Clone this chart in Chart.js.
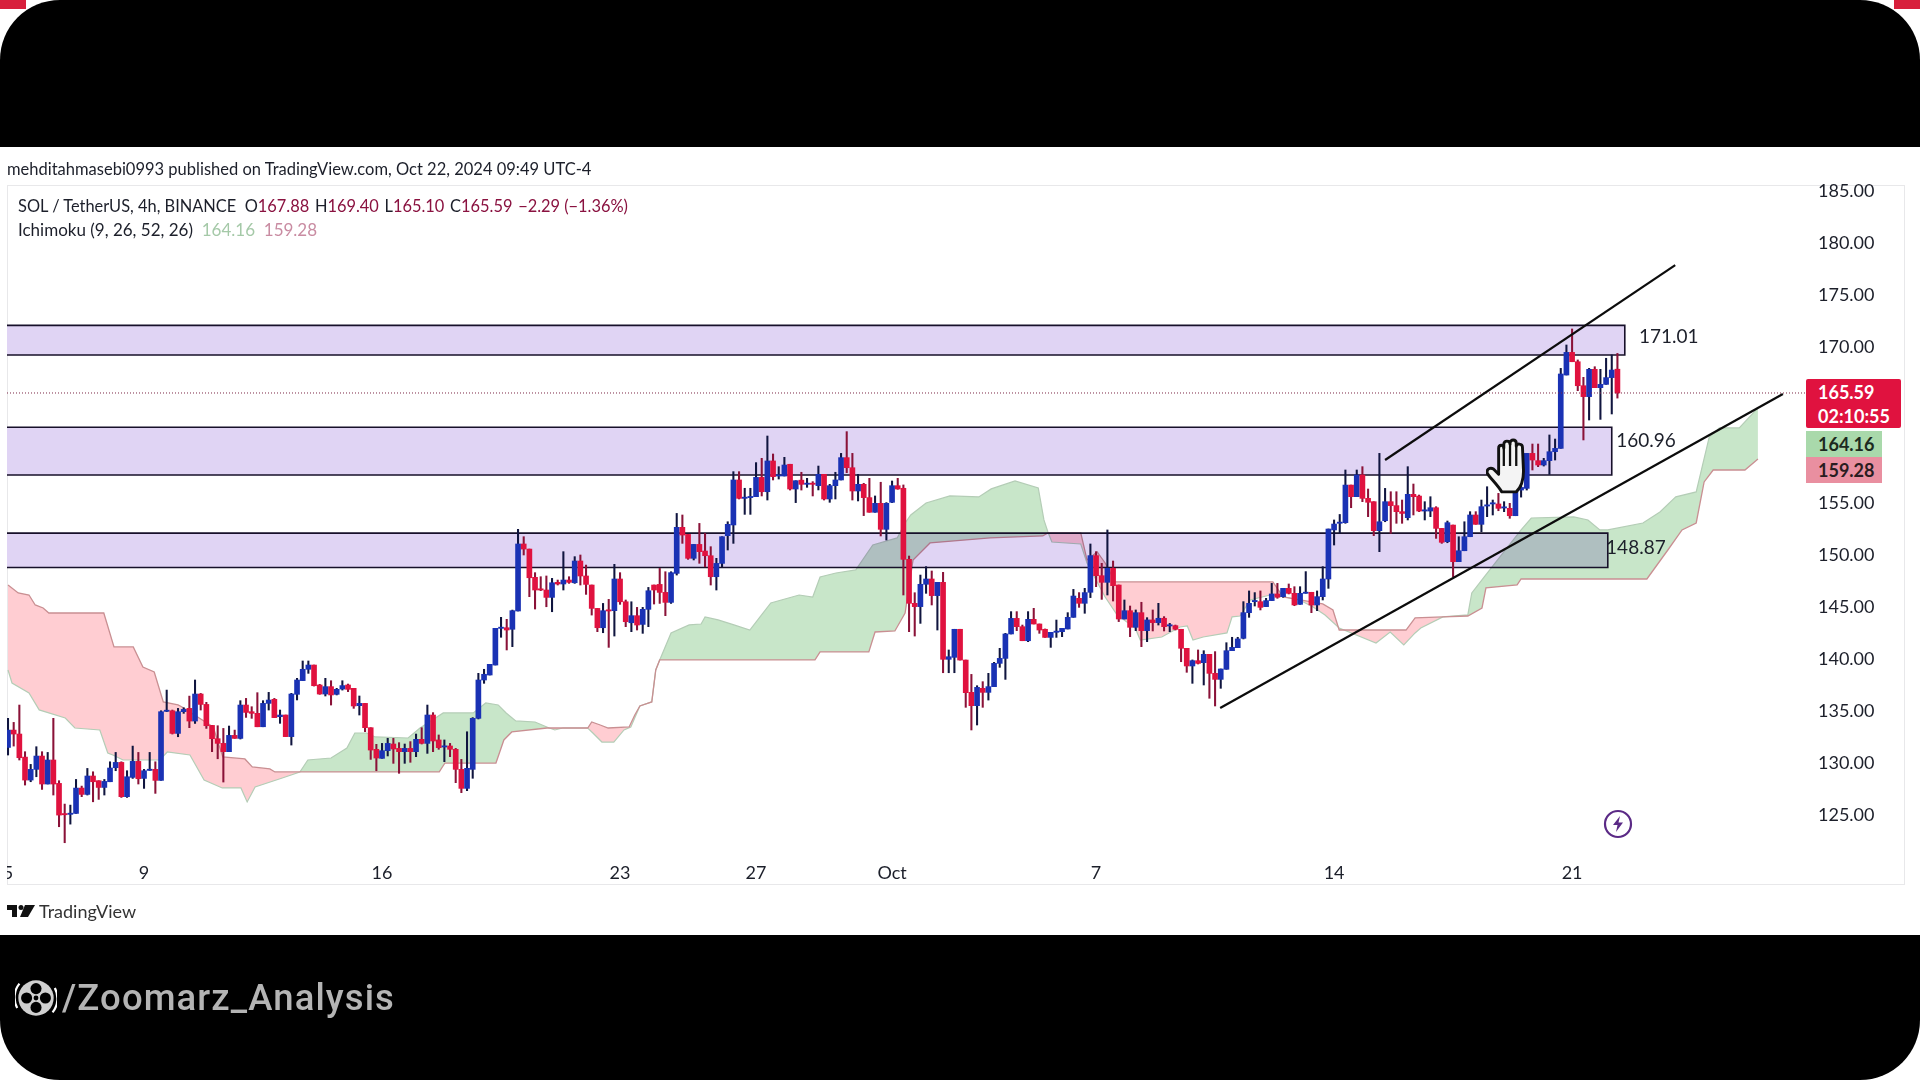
<!DOCTYPE html>
<html>
<head>
<meta charset="utf-8">
<title>SOL / TetherUS</title>
<script src="https://cdn.jsdelivr.net/npm/chart.js@4"></script>
<style>
  html, body { margin: 0; padding: 0; width: 1920px; height: 1080px; overflow: hidden; background: #fff; }
  .corner { position: absolute; top: 0; width: 26px; height: 9px; background: #d8203c; }
  .frame { position: absolute; left: 0; top: 0; width: 1920px; height: 1080px; background: #000; border-radius: 60px; overflow: hidden; }
  .panel { position: absolute; left: 0; top: 147px; width: 1920px; height: 788px; background: #fff; }
  .box { position: absolute; left: 7px; top: 185px; width: 1898px; height: 700px; border: 1px solid #e8e8ea; box-sizing: border-box; }
  canvas { position: absolute; left: 0; top: 0; }
  .txt { position: absolute; font-family: Lato, sans-serif; color: #1c1f2a; white-space: pre; line-height: 1; }
  .maroon { color: #8a1240; }
  .gap { margin-left: 1.5px; }
  .tag { position: absolute; left: 1806px; padding-left: 12px; box-sizing: border-box; font-family: Lato, sans-serif; font-size: 18px; font-weight: 700; }
  svg { position: absolute; }
</style>
</head>
<body>
<div class="corner" style="left:0"></div>
<div class="corner" style="right:0"></div>
<div class="frame">
  <div class="panel"></div>
  <div class="box"></div>
  <canvas id="chart" width="1920" height="1080"></canvas>

  <div class="txt" style="left:7px;top:161px;font-size:16.5px">mehditahmasebi0993 published on TradingView.com, Oct 22, 2024 09:49 UTC-4</div>
  <div class="txt" style="left:18px;top:198px;font-size:16.4px">SOL / TetherUS, 4h, BINANCE  O<span class="maroon">167.88</span> <span class="gap">H</span><span class="maroon">169.40</span> <span class="gap">L</span><span class="maroon">165.10</span> <span class="gap">C</span><span class="maroon">165.59</span> <span class="maroon gap">−2.29 (−1.36%)</span></div>
  <div class="txt" style="left:18px;top:221px;font-size:17px">Ichimoku (9, 26, 52, 26)  <span style="color:#a5c9a8">164.16</span>  <span style="color:#c98ca2">159.28</span></div>

  <div class="tag" style="top:379px;width:95px;height:49px;background:#e0123f;color:#fff;border-radius:2px;line-height:24px;padding-top:1px">165.59<br>02:10:55</div>
  <div class="tag" style="top:431px;width:76px;height:26px;line-height:26px;background:#a9d9ab;color:#1c2a20">164.16</div>
  <div class="tag" style="top:457px;width:76px;height:26px;line-height:26px;background:#e98fa0;color:#2a1c20">159.28</div>

  <svg style="left:1486px;top:438px" width="46" height="58" viewBox="0 0 44 56">
    <path d="M15 52 C10 44 3 38 1 34 C0 30 4 28 7 30 L12 35 L12 10 C12 6 17 6 17 10 L17 6 C17 2 23 2 23 6 L23 5 C23 1 29 1 29 5 L29 8 C29 5 35 5 35 9 L36 32 C36 42 33 48 29 52 Z" fill="#f4f4f4" stroke="#111" stroke-width="2.8" stroke-linejoin="round"/>
    <path d="M17 10 V27 M23 6 V27 M29 8 V27" fill="none" stroke="#111" stroke-width="2.2"/>
  </svg>

  <svg style="left:1603px;top:809px" width="30" height="30" viewBox="0 0 30 30">
    <circle cx="15" cy="15" r="13" fill="#fff" stroke="#5b2a86" stroke-width="2.2"/>
    <path d="M17 7 L10 16 H14.5 L13 23 L20 13.5 H15.5 Z" fill="#5b2a86"/>
  </svg>

  <svg style="left:7px;top:904px" width="28" height="14" viewBox="0 0 28 14">
    <path d="M0 1 H10 V13 H5 V6 H0 Z" fill="#111"/>
    <circle cx="14" cy="3.5" r="2.5" fill="#111"/>
    <path d="M18 1 H28 L21 13 H13 Z" fill="#111"/>
  </svg>
  <div class="txt" style="left:39px;top:902px;font-size:18px;color:#333">TradingView</div>

  <svg style="left:15px;top:977px" width="42" height="42" viewBox="0 0 38 38">
    <circle cx="19" cy="19" r="16" fill="#d0d0d0"/>
    <circle cx="19" cy="10.5" r="5" fill="#000"/>
    <circle cx="19" cy="27.5" r="5" fill="#000"/>
    <circle cx="10.5" cy="19" r="5" fill="#000"/>
    <circle cx="27.5" cy="19" r="5" fill="#000"/>
    <circle cx="19" cy="19" r="2.2" fill="#000"/>
    <path d="M4 6 A20 20 0 0 0 2 28 M34 32 A20 20 0 0 0 36 10" fill="none" stroke="#fff" stroke-width="2"/>
  </svg>
  <div class="txt" style="left:62px;top:980px;font-family:Roboto,sans-serif;font-size:36.5px;font-weight:500;color:#b4b4b4;letter-spacing:1.1px">/Zoomarz_Analysis</div>
</div>

<script>
// 4h candles, bar 0 = Sep 5
const candleOpen = [
  131.48,133.15,132.77,130.55,128.34,129.37,130.65,127.96,130.27,128.02,
  125.07,125.04,125.13,127.57,126.96,128.73,128.28,127.63,128.18,129.53,
  130.04,126.74,128.6,130.14,128.5,129.27,129.37,128.31,134.95,135.01,
  132.83,134.92,135.24,134.02,136.62,135.62,133.6,132.32,131.87,131.07,
  132.64,132.35,135.56,134.92,134.76,133.47,135.72,136.11,134.44,134.6,
  132.52,136.59,137.91,139,139.41,137.49,136.62,137.33,136.59,137.1,
  137.49,137.17,135.5,135.72,133.38,131.3,130.43,131.17,131.81,131.39,
  131.07,131.39,131.07,132.26,131.87,134.6,132.2,131.52,131.62,131.3,
  129.37,127.54,129.37,134.28,137.97,138.45,139.41,142.94,143,142.85,
  144.61,151.06,150.57,147.85,146.69,146.63,145.92,147.37,147.21,147.59,
  147.33,149.42,147.98,147.11,144.86,143,144.67,144.64,147.69,145.5,
  143.48,144.16,143.32,144.77,147.11,147.17,146.4,145.44,148.23,152.66,
  151.98,149.68,151.02,150.38,149.93,147.91,149.19,151.86,152.89,157.22,
  155.45,155.52,155.61,157.47,156.09,159.05,157.6,157.6,158.73,156.35,
  157.2,156.8,156.9,156.67,157.76,155.39,156.67,157.22,159.37,158.4,
  156.16,156.8,155.52,154.11,154.97,152.47,155.07,156.67,156.42,149.58,
  145.35,145.03,147.18,147.69,146.09,147.37,139.96,140.15,142.85,139.89,
  136.78,135.5,137.17,136.78,137.33,139.57,140.05,142.4,143.9,143.1,
  141.75,143.81,143.36,142.85,142.07,142.56,142.62,142.88,144,145.83,
  145.35,146.41,149.94,148.01,147.37,148.72,147.11,143.84,144.64,143.04,
  144.45,142.72,143.75,143.49,143.91,143.17,143.2,142.85,141.02,139.32,
  139.83,139.64,140.44,138.61,138.03,139,140.79,141.08,141.98,144.45,
  145.51,145.51,145.03,145.61,146.25,145.99,146.79,146.31,145.25,146.31,
  146.41,145.19,145.99,147.69,152.41,153.05,153.11,156.73,155.61,157.7,
  155.45,155.13,152.34,153.3,155.13,154.75,154.17,153.59,155.84,155.67,
  154.23,154.23,154.55,152.56,151.28,152.88,149.36,150.41,151.76,153.85,
  152.95,154.71,154.91,154.91,154.52,154.49,153.78,156.25,156.41,159.78,
  159.08,158.66,159.08,159.94,160.26,167.32,169.5,168.6,166.29,165.24,
  167.87,166.1,166.42,167.07,167.88
];
const candleHigh = [
  134.28,133.89,135.56,131.07,129.85,131.55,131.07,131,134.28,128.28,
  126.03,125.93,128.4,127.76,129.46,129.14,128.28,128.4,130.1,131,
  130.1,129.24,131.61,131,129.37,131,130.1,135.01,137,135.08,
  135.24,135.3,136.42,137.97,136.68,135.82,133.6,133.57,133.31,133.54,
  133.15,135.98,136.2,135.4,136.75,135.98,136.78,136.2,135.08,134.6,
  136.69,138.13,139.8,139.8,139.41,137.55,138.13,137.9,137.17,137.9,
  137.58,137.17,136.43,135.72,133.38,131.78,131.87,132.36,132.36,131.94,
  131.81,132.04,132.77,133.38,135.56,134.83,132.68,132.2,131.87,131.39,
  130.33,132.99,134.35,138.61,139,139.48,142.94,144,143.81,144.7,
  152.47,151.76,150.57,148.3,147.91,147.98,147.75,147.59,150.32,147.91,
  149.84,150,149.03,147.11,144.86,145.34,145.73,149.1,148.3,145.67,
  145.5,144.96,144.96,146.88,147.11,148.71,148.39,148.39,154,153.85,
  151.98,151.02,153.04,152.08,150.8,149.68,151.76,153.2,158.02,158.02,
  156.42,156.42,158.89,159.3,161.45,159.72,158.5,159.4,158.73,157.15,
  157.96,157.38,157.06,158.56,157.76,156.8,157.96,159.78,161.87,159.78,
  157.76,156.9,157.38,155.68,157,155.04,157.12,157.38,156.74,149.9,
  146.37,148.07,148.88,148.46,147.37,148.33,140.86,142.85,142.85,139.89,
  138.51,137.42,137.81,138.61,139.67,141.02,142.46,144.55,144.55,143.26,
  144.55,144.87,143.36,142.88,142.56,143.74,142.94,144.45,146.69,146.38,
  146.79,151.06,150.32,149.2,152.41,149.42,147.11,145.67,145.09,144.71,
  145.45,143.97,144.71,145.35,144.07,143.42,143.26,142.85,141.02,139.9,
  140.86,140.79,140.44,140.7,139.03,141.56,142.08,142.08,145.51,146.54,
  146.38,146.54,145.83,147.27,147.27,146.79,147.21,146.95,146.95,148.4,
  146.41,146.54,148.88,152.5,153.37,153.9,158.18,156.73,158.18,158.5,
  156.35,155.13,159.78,156.41,156.09,156.09,155.29,158.5,156.83,155.77,
  155.13,155.61,154.65,152.56,153.27,152.88,151.76,153.2,154.17,154.17,
  155.29,156.57,155.29,155.93,155.13,154.97,156.25,157,159.78,160.68,
  160.68,159.3,161.55,161.16,167.96,170.21,171.75,168.77,167.1,167.96,
  168.12,167.87,168.93,169.25,169.4
];
const candleLow = [
  130.75,131.61,130.27,127.86,128.18,128.66,127.44,127.96,126.9,123.85,
  122.31,124.1,125.13,126.74,126.9,126.25,126.48,126.9,128.18,129.24,
  126.67,126.67,128.5,127.96,127.54,129.27,127.06,128.31,134.92,132.77,
  132.51,134.76,133.38,133.79,135.08,133.31,131.07,130.39,128.15,131.07,
  132.35,132.29,134.37,134.28,133.47,133.47,135.08,134.35,133.8,132.52,
  131.71,136.05,137.91,138.61,137.39,136.59,136.43,135.56,136.53,137,
  136.85,135.24,134.6,133,130.33,129.24,130.43,130.66,129.95,128.99,
  129.95,130.05,130.59,131.81,130.91,131.07,131.3,130.11,130.59,128.09,
  127.13,127.32,128.51,134.22,137.65,138.45,139.41,142.08,140.86,141.18,
  144.61,150,145.99,144.8,146.57,145.02,144.54,147.11,146.63,147.27,
  147.27,147.11,146.21,144.22,142.62,142.52,141.11,142.2,145.25,143.1,
  142.62,142.78,142.46,143.1,145.28,145.34,144.16,145.34,148.07,151.12,
  149.58,149.52,149.2,148.87,147.11,146.63,148.87,150.48,151.12,155.39,
  153.91,153.91,155.61,155.68,155.29,157.22,157.31,157.6,156.25,155.04,
  156.25,156.51,155.68,156.26,155.29,155.07,155.39,157.22,157.92,155.29,
  155.2,153.79,154.11,154.11,151.83,151.44,155.04,156.32,146.15,142.62,
  142.2,143.42,146.31,145.19,142.78,138.67,138.67,138.67,139.89,135.34,
  133.16,133.64,135.34,136.04,137.33,139.19,138.03,142.4,142.72,141.75,
  141.66,143.36,142.46,142.07,141.11,142.07,142.14,142.88,144,144.96,
  144.39,145.9,146.95,145.73,146.15,145.57,143.59,143.84,142.14,142.72,
  141.18,141.66,142.69,143.26,142.69,142.62,142.78,139.73,138.71,137.65,
  139.51,137.49,136.21,135.47,137.17,139,140.79,141.08,141.92,144,
  145.09,144.71,145.03,145.61,145.83,145.93,146.25,145.12,145.25,146.31,
  144.45,144.64,145.67,146.79,150.96,152.09,153.05,154.55,155.61,155.13,
  153.69,151.86,150.32,153.2,152.08,153.05,153.05,153.37,153.85,154.17,
  153.37,153.69,151.6,151.12,151.18,147.91,149.36,150.41,151.76,152.95,
  152.24,153.69,153.85,154.26,154.17,153.53,153.78,155.57,156.25,158.18,
  158.5,158.56,157.76,159.14,160.26,167.32,168.6,165.81,161.07,162.99,
  166.1,163.05,166.42,163.57,165.1
];
const candleClose = [
  133.15,132.77,130.49,128.34,129.37,130.65,127.96,130.27,127.96,124.97,
  125,125.13,127.57,126.96,128.73,128.18,127.63,128.21,129.5,130.04,
  126.74,128.66,130.14,128.47,129.24,129.37,128.31,134.92,135.01,132.83,
  134.92,135.14,134.02,136.62,135.62,133.57,132.32,131.87,131.07,132.64,
  132.35,135.56,134.85,134.76,133.47,135.72,136.04,134.35,134.6,132.52,
  136.62,137.97,139,139.41,137.42,136.62,137.33,136.53,137.07,137.43,
  137.07,135.47,135.72,133.38,131.23,130.46,131.17,131.87,131.33,131.07,
  131.39,131.07,132.26,131.87,134.6,132.1,131.46,131.62,131.3,129.37,
  127.54,129.47,134.28,137.97,138.52,139.48,142.94,143,142.78,144.64,
  151.06,150.57,147.81,146.63,146.63,145.92,147.33,147.21,147.59,147.37,
  149.42,147.98,147.17,144.86,143,144.64,144.61,147.69,145.5,143.58,
  144.16,143.26,144.77,146.56,146.63,146.4,145.44,148.3,152.66,151.92,
  149.68,151.02,150.32,149.93,147.91,149.19,151.76,152.95,157.22,155.45,
  155.52,155.61,157.47,156.09,159.05,157.54,157.66,158.66,156.35,157.15,
  156.8,156.84,156.8,157.76,155.39,156.67,157.22,159.37,158.4,156.16,
  156.8,155.52,154.11,154.97,152.47,154.97,156.67,156.35,149.58,145.35,
  145.03,147.18,147.69,146.09,147.37,139.96,140.21,142.85,139.89,136.75,
  135.5,137.26,136.78,137.33,139.57,140.05,142.4,143.9,143.1,141.75,
  143.81,143.36,142.78,142.07,142.56,142.62,142.94,144,146.05,145.35,
  146.38,149.94,148.01,147.37,148.72,147.05,143.84,144.64,143.04,144.45,
  142.72,143.75,143.49,143.91,143.1,143.26,142.85,141.02,139.32,139.83,
  139.57,140.44,138.61,138.03,139.03,140.79,141.11,141.92,144.45,145.35,
  145.57,144.96,145.61,146.25,145.93,146.79,146.31,145.19,146.31,146.38,
  145.19,145.99,147.69,152.5,152.98,153.11,156.73,155.61,157.7,155.45,
  155.07,152.34,153.2,155.13,154.75,154.17,154,155.84,155.61,154.23,
  154.33,154.55,152.56,151.22,153.11,149.36,150.41,151.76,153.85,152.95,
  154.65,154.81,154.97,154.49,154.59,153.78,156.25,156.5,159.78,159.14,
  158.66,159.08,159.94,160.26,167.42,169.5,168.6,166.29,165.24,167.87,
  166.1,166.42,167.07,167.8,165.59
];

// Ichimoku cloud edges, [bar, price]
const leadABars = [0,0.7,3.7,5.5,10.1,11.8,16.2,17.6,18.5,20.3,26.8,28.1,32.1,34.6,37.8,41.1,42.2,43.6,48.4,51.5,52.9,57,59.8,61.2,63.3,64.8,70.6,72.7,76.8,82.1,84.3,86.5,87.9,89.6,93,95.5,96.5,97.9,102.3,103.2,104.8,106.9,108.7,109.9,111.5,113.6,114.3,115,117,120.2,122.3,123,125.3,128.1,130.9,132.7,134.6,139.6,142,143.3,146.1,149.6,152.6,156.9,158.3,159.3,162,166.2,171.3,173.5,177.7,181.8,182.8,183.5,184.2,189.3,190.4,193.6,195.7,198.9,199.8,203.6,206.8,208.1,209.1,210.9,215.1,216,217.4,219.2,222.7,225.3,227.9,230.3,232.4,234.9,241.4,243.9,246.3,248.3,249.3,253.2,257.6,258.3,260.5,267,268.8,276.3,278.8,280.9,282.3,288.5,291.5,294.3,297.9,300.2,302,305.5,308.8];
const leadAValues = [138.93,137.68,136.72,135.09,134.31,133.35,133.16,130.95,130.75,130.27,130.27,131.04,130.75,128.35,127.58,127.58,126.23,127.67,128.54,129.12,130.27,130.46,131.43,132.87,132.87,132.49,132.39,133.35,134.8,134.8,135.76,135.57,134.8,134.03,133.93,133.35,133.16,133.35,133.35,132.87,132,132,133.16,133.45,135.47,135.86,138.93,139.9,142.5,143.27,143.36,144.04,143.75,143.27,142.78,144.04,145.38,146.15,145.96,147.89,148.27,148.56,150.97,151.64,153.08,153.85,155.01,155.68,155.59,156.36,157.13,156.45,153.37,152.22,151.25,151.06,149.23,145.96,144.23,142.98,141.82,142.11,143.07,143.17,141.82,142.11,142.5,144.04,144.13,145.67,146.15,145.96,145.67,145,144.23,142.98,141.53,142.59,141.34,142.5,142.98,144.04,144.23,146.35,147.89,152.41,153.56,153.66,153.37,152.41,152.41,153.08,154.14,155.59,156.07,161.36,162.23,162.23,164.16];
const leadBBars = [0,1.8,3.7,4.8,6.2,7.2,16.9,18.7,22.1,23.8,25.8,27.4,30,30.7,36.2,37.9,41.8,43.1,46.2,47.1,76.1,77.1,86.1,87.5,88.9,95.1,102.3,103,104.5,105.9,109.6,110.6,111.5,113.6,114.3,115,142.4,143.3,151.9,153,156.5,158.3,159.7,162.7,173.3,182.6,183.5,189.3,190.4,192.2,193.6,195.4,223.2,225,232,233.8,234.9,246.7,248.3,253.2,257.6,260.1,260.8,266.3,267,289.2,292.9,295.4,297.9,299.3,300.9,306.5,308.8];
const leadBValues = [147.12,146.35,146.15,145.19,144.9,144.42,144.42,141.15,141.15,139.22,138.74,135.86,135.57,135.37,133.45,130.56,130.37,129.6,129.41,129.12,129.12,129.98,129.98,132.2,132.97,133.35,133.35,133.93,133.64,133.35,133.45,134.6,135.47,135.86,138.93,139.9,139.9,140.67,140.67,142.59,142.69,144.42,149.52,151.16,151.64,151.83,152.12,152.12,149.52,150.29,149.23,147.41,147.41,145.96,145.29,144.71,142.78,142.78,143.94,144.04,144.13,144.9,146.83,147.12,147.69,147.69,150.48,152.41,153.08,157.03,158.18,158.18,159.24];

// drawn zones with their labels
const zoneTops = [172.1, 162.3, 152.1];
const zoneBottoms = [169.25, 157.7, 148.8];
const zoneEndBars = [285.3, 283, 282.3];
const zoneLabels = ["171.01", "160.96", "148.87"];
const zoneLabelBars = [287.8, 283.8, 282];
const zoneLabelPrices = [171.0, 160.97, 150.67];

// trend lines
const upperTrendBars = [243, 294.2];
const upperTrendPrices = [159.14, 177.9];
const lowerTrendBars = [213.9, 313.2];
const lowerTrendPrices = [135.27, 165.5];

const lastPrice = 165.59;
const priceTicks = [125, 130, 135, 140, 145, 150, 155, 170, 175, 180, 185];
const dayTicks = [0, 24, 66, 108, 132, 156, 192, 234, 276];
const dayLabels = ["5", "9", "16", "23", "27", "Oct", "7", "14", "21"];

const BLUE = "#1a32b4";
const RED = "#e0123f";
const barsAxisMin = -0.18;
const barsAxisMax = 317.1;

const isUp = i => candleClose[i] >= candleOpen[i];
const bodies = candleOpen.map((o, i) => ({ x: i, y: [o, candleClose[i]] }));
const wicks = candleHigh.map((h, i) => ({ x: i, y: [candleLow[i], h] }));
const toPoints = (bars, values) => bars.map((b, i) => ({ x: b, y: values[i] }));

// zones sit over the cloud and under the candles, multiply gives the grey-green overlap
const zonePlugin = {
  id: "zones",
  beforeDatasetDraw(chart, args) {
    if (args.meta.label !== "wicks") return;
    const { ctx, chartArea, scales } = chart;
    ctx.save();
    ctx.beginPath();
    ctx.rect(chartArea.left, chartArea.top, chartArea.width, chartArea.height);
    ctx.clip();
    zoneTops.forEach((top, i) => {
      const y0 = scales.y.getPixelForValue(top);
      const y1 = scales.y.getPixelForValue(zoneBottoms[i]);
      const x1 = scales.x.getPixelForValue(zoneEndBars[i]);
      ctx.globalCompositeOperation = "multiply";
      ctx.fillStyle = "#e0d4f4";
      ctx.fillRect(chartArea.left, y0, x1 - chartArea.left, y1 - y0);
      ctx.globalCompositeOperation = "source-over";
      ctx.strokeStyle = "#17102a";
      ctx.lineWidth = 1.6;
      ctx.beginPath();
      ctx.moveTo(chartArea.left, y0);
      ctx.lineTo(x1, y0);
      ctx.lineTo(x1, y1);
      ctx.lineTo(chartArea.left, y1);
      ctx.stroke();
    });
    ctx.restore();
  },
  afterDraw(chart) {
    const { ctx, chartArea, scales } = chart;
    ctx.save();
    // first day label is cut by the pane edge
    ctx.clearRect(0, chartArea.bottom, chartArea.left, 30);
    ctx.font = "19px Lato, sans-serif";
    ctx.fillStyle = "#1c1f2a";
    ctx.textBaseline = "middle";
    zoneLabels.forEach((label, i) => {
      ctx.fillText(label, scales.x.getPixelForValue(zoneLabelBars[i]), scales.y.getPixelForValue(zoneLabelPrices[i]));
    });
    ctx.restore();
  }
};

new Chart(document.getElementById("chart"), {
  type: "bar",
  data: {
    datasets: [
      {
        type: "line", label: "upper trend", order: -2,
        data: toPoints(upperTrendBars, upperTrendPrices),
        borderColor: "#0c0c0c", borderWidth: 2.2, pointRadius: 0,
      },
      {
        type: "line", label: "lower trend", order: -2,
        data: toPoints(lowerTrendBars, lowerTrendPrices),
        borderColor: "#0c0c0c", borderWidth: 2.2, pointRadius: 0,
      },
      {
        type: "line", label: "last price", order: -1,
        data: [{ x: barsAxisMin, y: lastPrice }, { x: barsAxisMax, y: lastPrice }],
        borderColor: "#7b2544", borderWidth: 1, borderDash: [1, 2], pointRadius: 0,
      },
      {
        label: "bodies", order: 0,
        data: bodies,
        backgroundColor: candleOpen.map((o, i) => (isUp(i) ? BLUE : RED)),
        barThickness: 5, grouped: false, minBarLength: 1.2,
      },
      {
        label: "wicks", order: 1,
        data: wicks,
        backgroundColor: candleOpen.map((o, i) => (isUp(i) ? "#10153f" : "#8a1238")),
        barThickness: 1.4, grouped: false,
      },
      {
        type: "line", label: "lead A", order: 2,
        data: toPoints(leadABars, leadAValues),
        borderColor: "#b4cdb6", borderWidth: 1.2, pointRadius: 0,
        fill: { target: 6, above: "#c8e6c9", below: "#ffcdd2" },
      },
      {
        type: "line", label: "lead B", order: 1.5,
        data: toPoints(leadBBars, leadBValues),
        borderColor: "#c98f92", borderWidth: 1.3, pointRadius: 0,
      },
    ],
  },
  options: {
    responsive: false,
    animation: false,
    devicePixelRatio: 1,
    layout: { padding: { left: 7, right: 15, top: 186, bottom: 195 } },
    plugins: { legend: { display: false }, tooltip: { enabled: false } },
    scales: {
      x: {
        type: "linear",
        offset: false,
        min: barsAxisMin,
        max: barsAxisMax,
        grid: { display: false },
        border: { display: false },
        afterBuildTicks(scale) { scale.ticks = dayTicks.map(v => ({ value: v })); },
        afterFit(scale) { scale.height = 35; scale.paddingLeft = 0; scale.paddingRight = 0; },
        ticks: {
          autoSkip: false, maxRotation: 0, padding: 4,
          color: "#1c1f2a",
          font: { family: "Lato, sans-serif", size: 18 },
          callback: value => dayLabels[dayTicks.indexOf(value)],
        },
      },
      y: {
        position: "right",
        min: 121.61,
        max: 185.51,
        grid: { display: false },
        border: { display: false },
        afterBuildTicks(scale) { scale.ticks = priceTicks.map(v => ({ value: v })); },
        afterFit(scale) { scale.width = 100; scale.paddingTop = 0; scale.paddingBottom = 0; },
        ticks: {
          autoSkip: false, padding: 5, drawTicks: false,
          color: "#1c1f2a",
          font: { family: "Lato, sans-serif", size: 18 },
          callback: value => value.toFixed(2),
        },
      },
    },
  },
  plugins: [zonePlugin],
});
</script>
</body>
</html>
